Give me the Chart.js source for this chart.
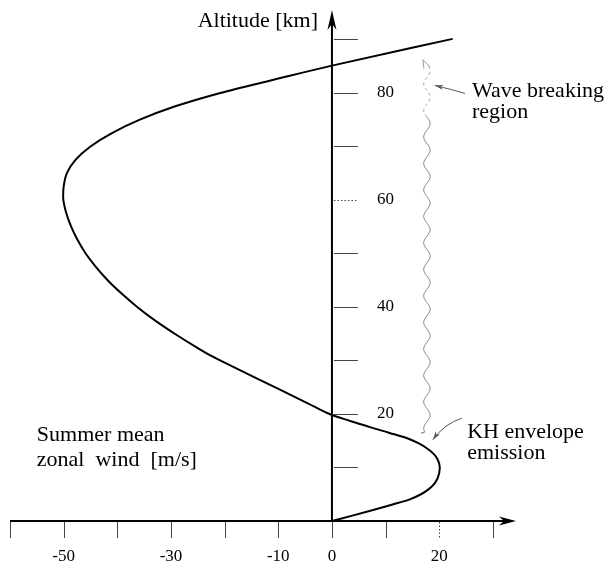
<!DOCTYPE html>
<html>
<head>
<meta charset="utf-8">
<script src="https://cdn.jsdelivr.net/npm/chart.js@4/dist/chart.umd.min.js"></script>
<style>
  html, body { margin: 0; padding: 0; background: #fff; }
  #wrap { width: 608px; height: 571px; }
</style>
</head>
<body>
<div id="wrap"><canvas id="c" width="608" height="571"></canvas></div>
<script>
// Summer mean zonal wind profile: altitude [km] and wind [m/s]
const altitudeKm = [0, 1, 2, 3, 4, 5, 6, 7, 8, 10, 11.5, 12.5, 13.5, 14.5, 15.5, 16.5, 17.5, 18.7, 19.8,
  22, 24.5, 27, 29.5, 30.7, 32.5, 35, 37.5, 40, 42.5, 45, 47.5, 50, 52.5, 55, 57.5, 60.6,
  62.5, 65, 67.5, 70, 72.5, 75, 77.5, 80, 82.5, 85.1, 90.1];
const windMs = [0, 3.8, 7.5, 11.0, 14.4, 16.6, 18.1, 19.1, 19.7, 20.1, 19.7, 19.0, 17.8, 16.2, 13.9, 10.6, 7.2, 3.4, 0,
  -4.5, -9.6, -14.7, -19.8, -22.2, -25.3, -29.3, -33.0, -36.3, -39.2, -41.8, -44.0, -45.9, -47.4, -48.6, -49.5, -50.1,
  -50.0, -49.4, -47.8, -45.0, -41.0, -35.8, -29.2, -20.8, -10.7, 0, 22.5];

// Axis ticks and the ticks that carry labels
const windTicks = [-60, -50, -40, -30, -20, -10, 0, 10, 20, 30];
const windLabels = [-50, -30, -10, 0, 20];
const altTicks = [10, 20, 30, 40, 50, 60, 70, 80, 90];
const altLabels = [20, 40, 60, 80];

// Wave path between the lobes (wind position, altitude range)
const waveWind = 17.7;
const waveSolidKm = [16.6, 75.5];
const waveDashedTopKm = 86.2;

const points = altitudeKm.map((a, i) => ({ x: windMs[i], y: a }));
const SERIF = '"Liberation Serif", "Times New Roman", serif';

const axesPlugin = {
  id: 'crossAxes',
  beforeDatasetsDraw(chart) {
    const { ctx, scales: { x, y } } = chart;
    const x0 = x.getPixelForValue(0);
    const y0 = y.getPixelForValue(0);
    const xEnd = x.getPixelForValue(x.max);
    const yEnd = y.getPixelForValue(y.max);
    ctx.save();
    ctx.strokeStyle = '#000';
    ctx.fillStyle = '#000';
    ctx.lineWidth = 2;
    // horizontal axis with arrow
    ctx.beginPath();
    ctx.moveTo(x.getPixelForValue(x.min), y0);
    ctx.lineTo(xEnd - 8, y0);
    ctx.stroke();
    ctx.beginPath();
    ctx.moveTo(xEnd, y0);
    ctx.lineTo(xEnd - 17, y0 - 4.5);
    ctx.lineTo(xEnd - 12, y0);
    ctx.lineTo(xEnd - 17, y0 + 4.5);
    ctx.closePath();
    ctx.fill();
    // vertical axis with arrow
    ctx.beginPath();
    ctx.moveTo(x0, y0);
    ctx.lineTo(x0, yEnd + 8);
    ctx.stroke();
    ctx.beginPath();
    ctx.moveTo(x0, yEnd);
    ctx.lineTo(x0 - 4.5, yEnd + 20);
    ctx.lineTo(x0, yEnd + 14);
    ctx.lineTo(x0 + 4.5, yEnd + 20);
    ctx.closePath();
    ctx.fill();

    // tick marks
    ctx.lineWidth = 1;
    ctx.strokeStyle = '#444';
    windTicks.forEach(v => {
      const px = Math.round(x.getPixelForValue(v)) + 0.5;
      ctx.setLineDash(v === 20 ? [1.5, 2] : []);
      ctx.beginPath();
      ctx.moveTo(px, y0 + 1);
      ctx.lineTo(px, y0 + 17);
      ctx.stroke();
    });
    altTicks.forEach(v => {
      const py = Math.round(y.getPixelForValue(v)) + 0.5;
      ctx.setLineDash(v === 60 ? [1.5, 2] : []);
      ctx.beginPath();
      ctx.moveTo(x0 + 2, py);
      ctx.lineTo(x0 + 26, py);
      ctx.stroke();
    });
    ctx.setLineDash([]);

    // tick labels
    ctx.fillStyle = '#000';
    ctx.font = '17px ' + SERIF;
    ctx.textAlign = 'center';
    ctx.textBaseline = 'middle';
    windLabels.forEach(v => {
      ctx.fillText(String(v), x.getPixelForValue(v), y0 + 36);
    });
    const labelX = x.getPixelForValue(10);
    altLabels.forEach(v => {
      ctx.fillText(String(v), labelX, y.getPixelForValue(v));
    });
    ctx.restore();
  },
  afterDatasetsDraw(chart) {
    const { ctx, scales: { x, y } } = chart;
    ctx.save();
    // wavy path: solid body and dashed top with an open arrowhead
    const wx = x.getPixelForValue(waveWind);
    const yBottom = y.getPixelForValue(waveSolidKm[0]);
    const yTop = y.getPixelForValue(waveSolidKm[1]);
    const period = 26.5, amp = 3.2;
    ctx.strokeStyle = '#777';
    ctx.lineWidth = 1;
    ctx.beginPath();
    for (let py = yTop; py <= yBottom; py += 0.5) {
      const px = wx + amp * Math.sin(2 * Math.PI * (py - yTop) / period);
      if (py === yTop) ctx.moveTo(px, py); else ctx.lineTo(px, py);
    }
    ctx.lineTo(wx - 6, yBottom + 1);
    ctx.stroke();
    const yDash = y.getPixelForValue(waveDashedTopKm);
    ctx.setLineDash([3, 3]);
    ctx.strokeStyle = '#999';
    ctx.beginPath();
    for (let py = yTop; py >= yDash + 6; py -= 0.5) {
      const px = wx + amp * Math.sin(2 * Math.PI * (py - yTop) / period);
      if (py === yTop) ctx.moveTo(px, py); else ctx.lineTo(px, py);
    }
    ctx.stroke();
    ctx.setLineDash([]);
    ctx.beginPath();
    ctx.moveTo(wx - 3, yDash + 9);
    ctx.lineTo(wx - 4, yDash);
    ctx.lineTo(wx + 3, yDash + 7);
    ctx.stroke();

    // pointer arrows to the wave
    const arrow = (x1, y1, cx, cy, x2, y2) => {
      ctx.beginPath();
      ctx.moveTo(x1, y1);
      ctx.quadraticCurveTo(cx, cy, x2, y2);
      ctx.stroke();
      const ang = Math.atan2(y2 - cy, x2 - cx);
      ctx.beginPath();
      ctx.moveTo(x2, y2);
      ctx.lineTo(x2 - 9 * Math.cos(ang - 0.3), y2 - 9 * Math.sin(ang - 0.3));
      ctx.lineTo(x2 - 6 * Math.cos(ang), y2 - 6 * Math.sin(ang));
      ctx.lineTo(x2 - 9 * Math.cos(ang + 0.3), y2 - 9 * Math.sin(ang + 0.3));
      ctx.closePath();
      ctx.fillStyle = '#555';
      ctx.fill();
    };
    ctx.strokeStyle = '#555';
    arrow(x.getPixelForValue(24.8), y.getPixelForValue(79.9), x.getPixelForValue(22.5), y.getPixelForValue(80.6),
          x.getPixelForValue(19.2), y.getPixelForValue(81.4));
    arrow(x.getPixelForValue(24.2), y.getPixelForValue(19.2), x.getPixelForValue(21), y.getPixelForValue(18.2),
          x.getPixelForValue(18.8), y.getPixelForValue(15.2));

    // annotation text
    ctx.fillStyle = '#000';
    ctx.font = '22px ' + SERIF;
    ctx.textBaseline = 'alphabetic';
    ctx.textAlign = 'right';
    ctx.fillText('Altitude [km]', x.getPixelForValue(-2.6), y.getPixelForValue(92.3));
    ctx.textAlign = 'left';
    ctx.fillText('Wave breaking', x.getPixelForValue(26.1), y.getPixelForValue(79.25));
    ctx.fillText('region', x.getPixelForValue(26.1), y.getPixelForValue(75.3));
    ctx.fillText('KH envelope', x.getPixelForValue(25.2), y.getPixelForValue(15.6));
    ctx.fillText('emission', x.getPixelForValue(25.2), y.getPixelForValue(11.5));
    ctx.fillText('Summer mean', x.getPixelForValue(-55), y.getPixelForValue(15));
    ctx.fillText('zonal  wind  [m/s]', x.getPixelForValue(-55), y.getPixelForValue(10.3));
    ctx.restore();
  }
};

new Chart(document.getElementById('c'), {
  type: 'line',
  data: {
    datasets: [{
      label: 'Summer mean zonal wind',
      data: points,
      borderColor: '#000',
      borderWidth: 2,
      pointRadius: 0,
      cubicInterpolationMode: 'monotone',
      fill: false,
      clip: false
    }]
  },
  options: {
    indexAxis: 'y',
    responsive: false,
    animation: false,
    layout: { padding: { left: 10, right: 92, top: 10, bottom: 50 } },
    scales: {
      x: { type: 'linear', min: -60, max: 34.3, display: false },
      y: { type: 'linear', min: 0, max: 95.5, display: false }
    },
    plugins: { legend: { display: false }, tooltip: { enabled: false } }
  },
  plugins: [axesPlugin]
});
</script>
</body>
</html>
